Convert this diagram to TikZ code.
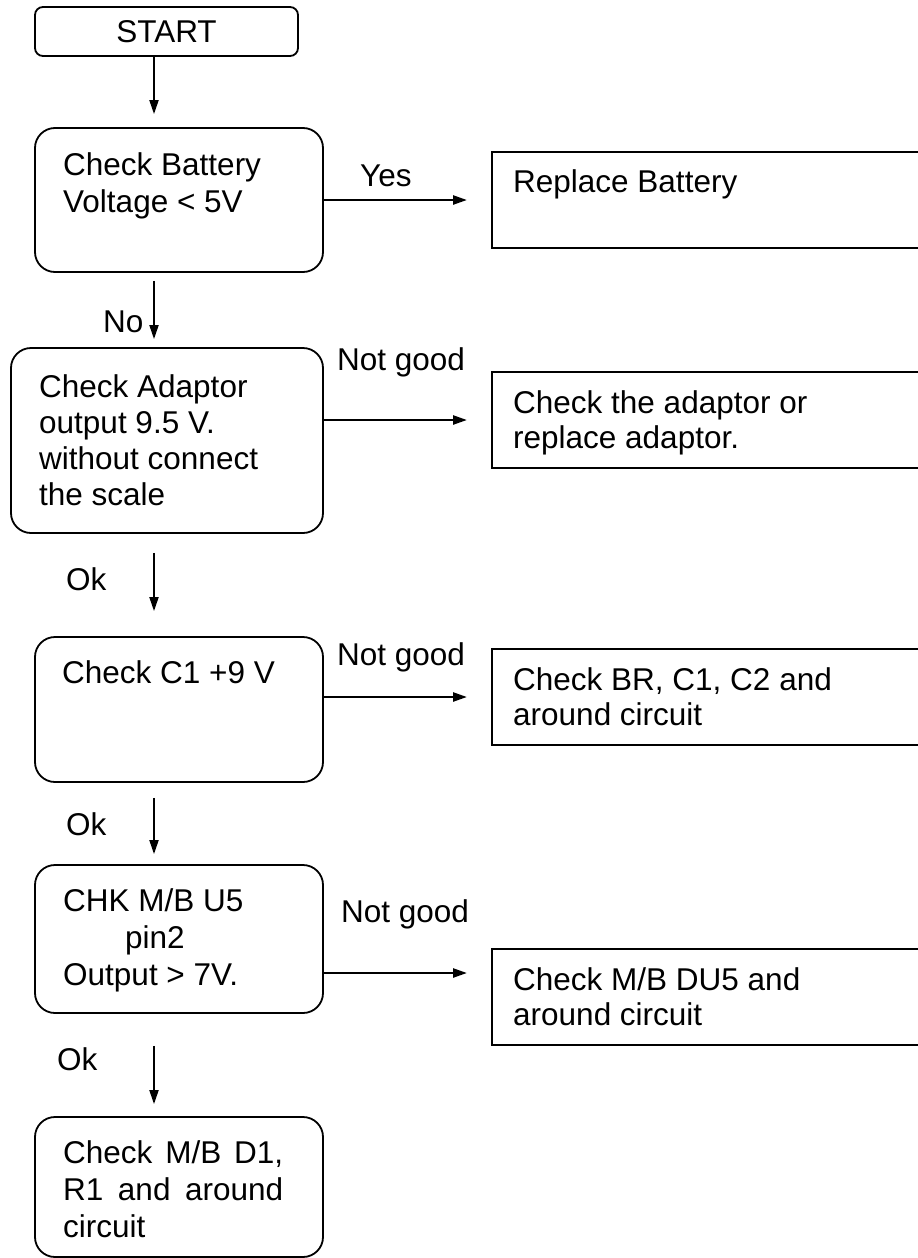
\documentclass[tikz,border=0pt]{standalone}
\usepackage{fontspec}
\setmainfont{Liberation Sans}
\usetikzlibrary{arrows.meta, positioning}
\definecolor{ink}{RGB}{0,0,0}

\begin{document}
\begin{tikzpicture}[x=1pt, y=-1pt,
    lbox/.style={rectangle, rounded corners=20pt, draw=ink, line width=1.8pt,
                 inner sep=0pt, minimum width=288pt, font=\fontsize{31.5}{37}\selectfont},
    rbox/.style={rectangle, draw=ink, line width=2.2pt, inner sep=0pt, anchor=west,
                 minimum width=440pt, minimum height=96pt},
    txt/.style={anchor=base west, align=left, inner sep=0pt,
                font=\fontsize{31.5}{37}\selectfont},
    ar/.style={-{Triangle[length=14pt, width=9pt]}, draw=ink, line width=1.8pt},
    rt/.style={ar, line width=2.4pt, shorten >=24pt}
]
\useasboundingbox (0,0) rectangle (918,1258);
\coordinate (spine) at (154,0);

% left column
\node[lbox, rounded corners=8pt, minimum width=263pt, minimum height=49pt] (s) at (166.5,31.5) {START};
\node[lbox, minimum height=144pt] (b1) at (179,200) {};
\node[lbox, minimum width=312pt, minimum height=185pt] (b2) at (167,440.5) {};
\node[lbox, minimum height=145pt] (b3) at (179,709.5) {};
\node[lbox, minimum height=148pt] (b4) at (179,939) {};
\node[lbox, minimum height=140pt] (b5) at (179,1187) {};

% multi-line texts sit on their last baseline
\node[txt] (t1) at (63,212) {Check Battery\\Voltage < 5V};
\node[txt, font=\fontsize{31.5}{36}\selectfont] (t2) at (39,505)
    {Check Adaptor\\output 9.5 V.\\without connect\\the scale};
\node[txt] (t3) at (62,683) {Check C1 +9 V};
\node[txt] (t4) at (63,985) {CHK M/B U5\\\hspace*{62pt}pin2\\Output > 7V.};
\node[txt] (t5) at (63,1237)
    {\makebox[220pt][s]{Check M/B D1,}\\\makebox[220pt][s]{R1 and around}\\circuit};

% right column
\node[rbox] (r1) at (491,200) {};
\node[rbox] (r2) at (491,420) {};
\node[rbox] (r3) at (491,697) {};
\node[rbox] (r4) at (491,997) {};

\node[txt] (u1) at (513,192) {Replace Battery};
\node[txt, font=\fontsize{31.5}{35}\selectfont] (u2) at (513,448) {Check the adaptor or\\replace adaptor.};
\node[txt, font=\fontsize{31.5}{35}\selectfont] (u3) at (513,725) {Check BR, C1, C2 and\\around circuit};
\node[txt, font=\fontsize{31.5}{35}\selectfont] (u4) at (513,1025) {Check M/B DU5 and\\around circuit};

% branch labels
\node[txt] (yes) at (360,186) {Yes};
\node[txt] (ng1) at (337,370) {Not good};
\node[txt] (ng2) at (337,665) {Not good};
\node[txt] (ng3) at (341,922) {Not good};
\node[txt] (no) at (103,332) {No};
\node[txt] (ok1) at (66,590) {Ok};
\node[txt] (ok2) at (66,835) {Ok};
\node[txt] (ok3) at (57,1070) {Ok};

% flow
\draw[ar, shorten >=13pt] (s.south -| spine) -- (b1.north -| spine);
\draw[ar, shorten <=8pt, shorten >=8pt] (b1.south -| spine) -- (b2.north -| spine);
\draw[ar, shorten <=19pt, shorten >=25pt] (b2.south -| spine) -- (b3.north -| spine);
\draw[ar, shorten <=15pt, shorten >=10pt] (b3.south -| spine) -- (b4.north -| spine);
\draw[ar, shorten <=32pt, shorten >=12pt] (b4.south -| spine) -- (b5.north -| spine);

\draw[rt] (b1.east) -- (r1.west);
\draw[rt] (b2.east |- r2.west) -- (r2.west);
\draw[rt] (b3.east |- r3.west) -- (r3.west);
\draw[rt] ([yshift=-34pt]b4.east) -- ([yshift=-34pt]b4.east -| r4.west);
\end{tikzpicture}
\end{document}
